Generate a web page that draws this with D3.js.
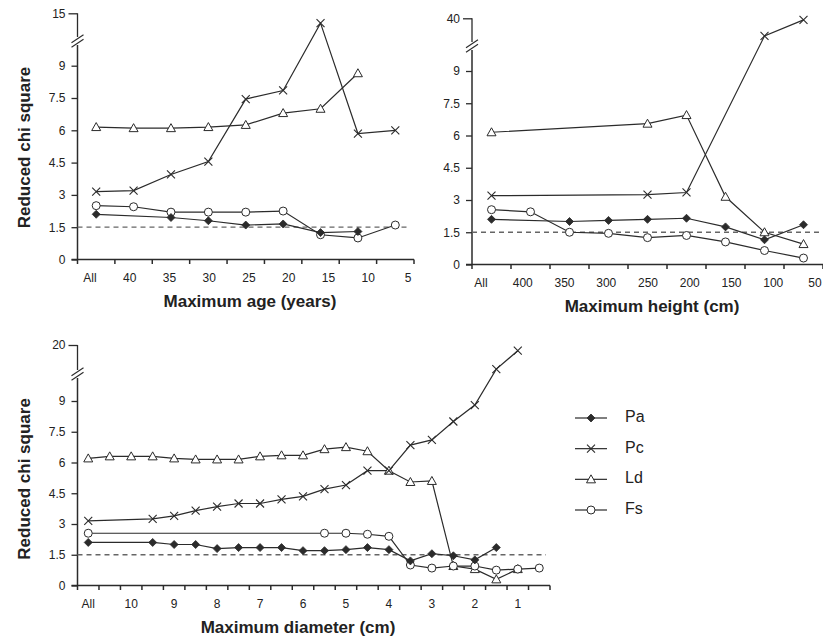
<!DOCTYPE html>
<html>
<head>
<meta charset="utf-8">
<script src="https://cdn.jsdelivr.net/npm/d3@7"></script>
<style>
  body { margin: 0; background: #fff; }
  svg { display: block; font-family: "Liberation Sans", Arial, sans-serif; }
</style>
</head>
<body>
<svg id="chart" width="823" height="637"></svg>
<script>
// ---- data ----
const seriesNames = ['Pa', 'Pc', 'Ld', 'Fs']

const ageCats = ['All', '40', '35', '30', '25', '20', '15', '10', '5']
const agePa = [2.1, null, 1.95, 1.8, 1.6, 1.65, 1.25, 1.3, null]
const agePc = [3.15, 3.2, 3.95, 4.55, 7.45, 7.85, 13.4, 5.85, 6.0]
const ageLd = [6.15, 6.1, 6.1, 6.15, 6.25, 6.8, 7.0, 8.65, null]
const ageFs = [2.5, 2.45, 2.2, 2.2, 2.2, 2.25, 1.15, 1.0, 1.6]

const heightCats = ['All', '400', '350', '300', '250', '200', '150', '100', '50']
const heightPa = [2.1, null, 2.0, 2.05, 2.1, 2.15, 1.75, 1.15, 1.85]
const heightPc = [3.2, null, null, null, 3.25, 3.35, null, 23, 38.5]
const heightLd = [6.15, null, null, null, 6.55, 6.95, 3.15, 1.5, 0.95]
const heightFs = [2.55, 2.45, 1.5, 1.45, 1.25, 1.35, 1.05, 0.65, 0.3]

const diamCats = ['All', '10.5', '10', '9.5', '9', '8.5', '8', '7.5', '7', '6.5', '6',
  '5.5', '5', '4.5', '4', '3.5', '3', '2.5', '2', '1.5', '1', '0.5']
const diamLabels = ['All', '10', '9', '8', '7', '6', '5', '4', '3', '2', '1']
const diamPa = [2.1, null, null, 2.1, 2.0, 2.0, 1.8, 1.85, 1.85, 1.85, 1.7,
  1.7, 1.75, 1.85, 1.75, 1.2, 1.55, 1.45, 1.25, 1.85, null, null]
const diamPc = [3.15, null, null, 3.25, 3.4, 3.65, 3.85, 4.0, 4.0, 4.2, 4.35,
  4.7, 4.9, 5.6, 5.6, 6.85, 7.1, 8.0, 8.8, 13.2, 18.4, null]
const diamLd = [6.2, 6.3, 6.3, 6.3, 6.2, 6.15, 6.15, 6.15, 6.3, 6.35, 6.35,
  6.65, 6.75, 6.55, 5.6, 5.05, 5.1, 0.95, 0.8, 0.3, 0.8, null]
const diamFs = [2.55, null, null, null, null, null, null, null, null, null, null,
  2.55, 2.55, 2.5, 2.4, 1.0, 0.85, 0.95, 0.95, 0.75, 0.8, 0.85]

const yTicksLow = [0, 1.5, 3, 4.5, 6, 7.5, 9]
const threshold = 1.5

const ink = '#2b2b2b'
const svg = d3.select('#chart')

// marker shapes
const markerPath = {
  Pa: 'M0,-4L4,0L0,4L-4,0Z',
  Pc: 'M-4,-4L4,4M-4,4L4,-4',
  Ld: 'M0,-4.5L4.5,3.5L-4.5,3.5Z'
}
function drawMarker(sel, name) {
  if (name === 'Fs') {
    sel.append('circle').attr('r', 4).attr('fill', '#fff').attr('stroke', ink).attr('stroke-width', 1)
  } else if (name === 'Pa') {
    sel.append('path').attr('d', markerPath.Pa).attr('fill', ink).attr('stroke', ink).attr('stroke-width', 0.8)
  } else if (name === 'Pc') {
    sel.append('path').attr('d', markerPath.Pc).attr('fill', 'none').attr('stroke', ink).attr('stroke-width', 1.1)
  } else {
    sel.append('path').attr('d', markerPath.Ld).attr('fill', '#fff').attr('stroke', ink).attr('stroke-width', 1)
  }
}

function panel(o) {
  const g = svg.append('g')
  const x = d3.scaleBand().domain(o.cats).range([o.x0, o.x1])
  const k = (o.yZero - o.yNine) / 9
  const y = d3.scaleLinear().domain([0, 10, o.topVal]).range([o.yZero, o.yZero - 10 * k, o.yTop])
  const cx = c => x(c) + x.bandwidth() / 2

  // y axis (ticks via d3, spine drawn with a break)
  const ya = g.append('g').attr('transform', `translate(${o.x0},0)`)
    .call(d3.axisLeft(y).tickValues(yTicksLow.concat([o.topVal])).tickSize(6).tickPadding(6)
      .tickFormat(d3.format('~g')))
  ya.select('.domain').remove()
  ya.selectAll('.tick line').attr('stroke', ink).attr('stroke-width', 1.3)
  ya.selectAll('.tick text').attr('fill', '#222').style('font-size', '12px')
  ya.selectAll('.tick').filter(d => d === o.topVal).select('line').attr('x2', -9)

  g.append('line').attr('x1', o.x0).attr('x2', o.x0).attr('y1', y(o.topVal)).attr('y2', o.breakY - 4)
    .attr('stroke', ink).attr('stroke-width', 1.3)
  g.append('line').attr('x1', o.x0).attr('x2', o.x0).attr('y1', o.breakY + 4).attr('y2', o.yZero)
    .attr('stroke', ink).attr('stroke-width', 1.5)
  ;[-2.2, 2.2].forEach(off => {
    g.append('line')
      .attr('x1', o.x0 - 6).attr('y1', o.breakY + 4 + off)
      .attr('x2', o.x0 + 6).attr('y2', o.breakY - 4 + off)
      .attr('stroke', ink).attr('stroke-width', 1.1)
  })

  // x axis
  g.append('line').attr('x1', o.x0 - 6).attr('x2', o.x1).attr('y1', o.yZero).attr('y2', o.yZero)
    .attr('stroke', ink).attr('stroke-width', 1.5)
  const bounds = o.cats.map(c => x(c)).concat([o.x1])
  g.selectAll('.xt').data(bounds).join('line')
    .attr('x1', d => d).attr('x2', d => d).attr('y1', o.yZero).attr('y2', o.yZero + 4.5)
    .attr('stroke', ink).attr('stroke-width', 1.5)

  const labels = o.labels || o.cats
  const lx = o.labelRange ? d3.scalePoint().domain(labels).range(o.labelRange) : cx
  g.selectAll('.xl').data(labels).join('text')
    .attr('x', d => lx(d)).attr('y', o.yZero + 22)
    .attr('text-anchor', 'middle').attr('fill', '#222').style('font-size', '12px')
    .text(d => d)

  // reference line
  g.append('line').attr('x1', o.x0).attr('x2', o.x1 - 4).attr('y1', y(threshold)).attr('y2', y(threshold))
    .attr('stroke', '#666').attr('stroke-width', 1.3).attr('stroke-dasharray', '5,4')

  // series
  const line = d3.line().x(d => cx(d.c)).y(d => y(d.v))
  const order = ['Ld', 'Pc', 'Fs', 'Pa']
  order.forEach(name => {
    const pts = o.cats.map((c, i) => ({ c, v: o.series[name][i] })).filter(d => d.v != null)
    g.append('path').datum(pts).attr('d', line)
      .attr('fill', 'none').attr('stroke', ink).attr('stroke-width', 1.2)
  })
  order.forEach(name => {
    const pts = o.cats.map((c, i) => ({ c, v: o.series[name][i] })).filter(d => d.v != null)
    pts.forEach(d => {
      const m = g.append('g').attr('transform', `translate(${cx(d.c)},${y(d.v)})`)
      drawMarker(m, name)
    })
  })

  // titles
  g.append('text').attr('x', o.xTitleX).attr('y', o.yZero + 47)
    .attr('text-anchor', 'middle').attr('font-weight', 'bold').attr('fill', '#222')
    .style('font-size', '17px').text(o.xTitle)
  if (o.yTitle) {
    g.append('text')
      .attr('transform', `translate(${o.x0 - 48},${y(5.2)}) rotate(-90)`)
      .attr('text-anchor', 'middle').attr('font-weight', 'bold').attr('fill', '#222')
      .style('font-size', '17px').text(o.yTitle)
  }
}

panel({
  cats: ageCats, x0: 77.5, x1: 414, yZero: 259.5, yNine: 65.7, yTop: 13.3, topVal: 15, breakY: 41,
  labelRange: [90, 408],
  series: { Pa: agePa, Pc: agePc, Ld: ageLd, Fs: ageFs },
  xTitle: 'Maximum age (years)', xTitleX: 250, yTitle: 'Reduced chi square'
})

panel({
  cats: heightCats, x0: 472, x1: 823, yZero: 264.5, yNine: 71, yTop: 18.3, topVal: 40, breakY: 46,
  labelRange: [481, 815],
  series: { Pa: heightPa, Pc: heightPc, Ld: heightLd, Fs: heightFs },
  xTitle: 'Maximum height (cm)', xTitleX: 652
})

// bottom panel: half-cm steps, labels only on whole numbers
panel({
  cats: diamCats, labels: diamLabels, x0: 77.5, x1: 550, yZero: 585.5, yNine: 401, yTop: 345, topVal: 20, breakY: 374,
  series: { Pa: diamPa, Pc: diamPc, Ld: diamLd, Fs: diamFs },
  xTitle: 'Maximum diameter (cm)', xTitleX: 298, yTitle: 'Reduced chi square'
})

// legend
const legend = svg.append('g')
const ly = d3.scalePoint().domain(seriesNames).range([418, 510])
seriesNames.forEach(name => {
  const yy = ly(name)
  legend.append('line').attr('x1', 575).attr('x2', 607).attr('y1', yy).attr('y2', yy)
    .attr('stroke', ink).attr('stroke-width', 1.2)
  const m = legend.append('g').attr('transform', `translate(591,${yy})`)
  drawMarker(m, name)
  legend.append('text').attr('x', 625).attr('y', yy + 4).attr('fill', '#222')
    .style('font-size', '16px').text(name)
})
</script>
</body>
</html>
